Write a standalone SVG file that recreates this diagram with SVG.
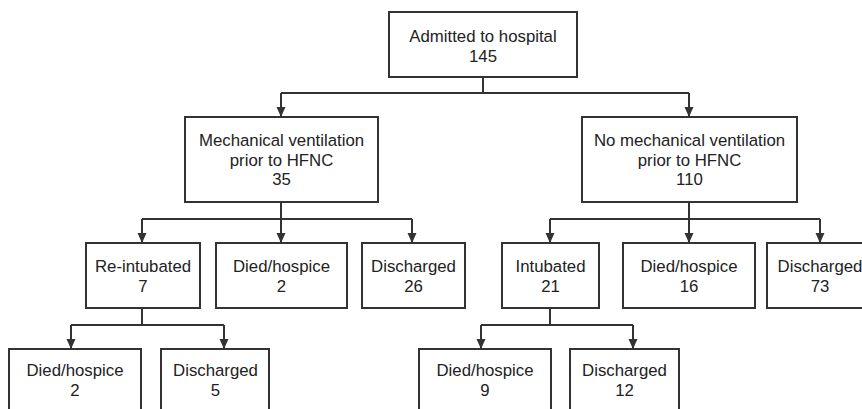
<svg xmlns="http://www.w3.org/2000/svg" width="862" height="409" viewBox="0 0 862 409">
<defs>
<style>
.box{fill:#fff;stroke:#333;stroke-width:2}
.ln{fill:none;stroke:#333;stroke-width:2}
text{font-family:"Liberation Sans",Arial,sans-serif;font-size:16.8px;fill:#222;text-anchor:middle}
</style>
<marker id="ah" viewBox="0 0 10 12" refX="10" refY="6" markerWidth="10" markerHeight="12" markerUnits="userSpaceOnUse" orient="auto">
<path d="M0,1.5 L10,6 L0,10.5 Z" fill="#333"/>
</marker>
</defs>
<rect width="862" height="409" fill="#fff"/>
<g id="connectors">
<path class="ln" d="M483,77 V93 M281,93 H689"/>
<path class="ln" d="M281,93 V117" marker-end="url(#ah)"/>
<path class="ln" d="M689,93 V117" marker-end="url(#ah)"/>
<path class="ln" d="M281,202 V219 M142,219 H412"/>
<path class="ln" d="M142,219 V243" marker-end="url(#ah)"/>
<path class="ln" d="M281,219 V243" marker-end="url(#ah)"/>
<path class="ln" d="M412,219 V243" marker-end="url(#ah)"/>
<path class="ln" d="M689,202 V219 M550,219 H820"/>
<path class="ln" d="M550,219 V243" marker-end="url(#ah)"/>
<path class="ln" d="M689,219 V243" marker-end="url(#ah)"/>
<path class="ln" d="M820,219 V243" marker-end="url(#ah)"/>
<path class="ln" d="M142,308 V325 M71,325 H224"/>
<path class="ln" d="M71,325 V349" marker-end="url(#ah)"/>
<path class="ln" d="M224,325 V349" marker-end="url(#ah)"/>
<path class="ln" d="M550,308 V325 M481,325 H633"/>
<path class="ln" d="M481,325 V349" marker-end="url(#ah)"/>
<path class="ln" d="M633,325 V349" marker-end="url(#ah)"/>
</g>
<g id="admitted"><rect class="box" x="389" y="12" width="188" height="65"/><text x="483" y="42">Admitted to hospital</text><text x="483" y="62">145</text></g>
<g id="mech"><rect class="box" x="185" y="117" width="193" height="85"/><text x="281.5" y="146">Mechanical ventilation</text><text x="281.5" y="166">prior to HFNC</text><text x="281.5" y="185">35</text></g>
<g id="nomech"><rect class="box" x="582" y="117" width="215" height="85"/><text x="689.5" y="146">No mechanical ventilation</text><text x="689.5" y="166">prior to HFNC</text><text x="689.5" y="185">110</text></g>
<g id="reintubated"><rect class="box" x="86" y="243" width="114" height="65"/><text x="143" y="272">Re-intubated</text><text x="143" y="292">7</text></g>
<g id="died-mech"><rect class="box" x="216" y="243" width="131" height="65"/><text x="281.5" y="272">Died/hospice</text><text x="281.5" y="292">2</text></g>
<g id="discharged-mech"><rect class="box" x="362" y="243" width="103" height="65"/><text x="413.5" y="272">Discharged</text><text x="413.5" y="292">26</text></g>
<g id="intubated"><rect class="box" x="502" y="243" width="97" height="65"/><text x="550.5" y="272">Intubated</text><text x="550.5" y="292">21</text></g>
<g id="died-nomech"><rect class="box" x="623" y="243" width="132" height="65"/><text x="689" y="272">Died/hospice</text><text x="689" y="292">16</text></g>
<g id="discharged-nomech"><rect class="box" x="767" y="243" width="106" height="65"/><text x="820" y="272">Discharged</text><text x="820" y="292">73</text></g>
<g id="died-reint"><rect class="box" x="9" y="349" width="132" height="65"/><text x="75" y="376">Died/hospice</text><text x="75" y="396">2</text></g>
<g id="discharged-reint"><rect class="box" x="161" y="349" width="108" height="65"/><text x="215.5" y="376">Discharged</text><text x="215.5" y="396">5</text></g>
<g id="died-int"><rect class="box" x="419" y="349" width="132" height="65"/><text x="485" y="376">Died/hospice</text><text x="485" y="396">9</text></g>
<g id="discharged-int"><rect class="box" x="570" y="349" width="109" height="65"/><text x="624.5" y="376">Discharged</text><text x="624.5" y="396">12</text></g>
</svg>
